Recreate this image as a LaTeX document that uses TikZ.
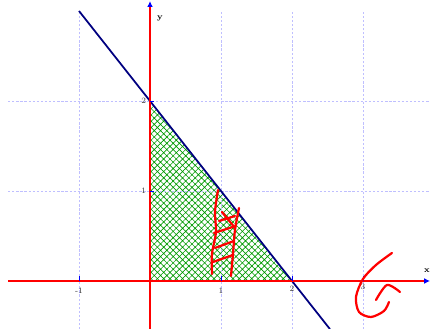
\documentclass[tikz,border=0pt]{standalone}
\usetikzlibrary{arrows.meta, patterns.meta}

\definecolor{navyln}{RGB}{0,0,128}

\begin{document}
\begin{tikzpicture}[x=2.13cm, y=2.7cm,
    gridln/.style={draw=blue!25, line width=0.4pt, dash pattern=on 2pt off 1.5pt},
    axisln/.style={draw=red, line width=2.2pt, -{Latex[color=blue, length=5pt, width=5pt]}},
    tck/.style={font=\scriptsize, inner sep=1pt, text=black!80},
    axlab/.style={font=\scriptsize\bfseries, inner sep=1pt},
    scrib/.style={draw=red, line width=1.9pt, line cap=round, line join=round},
]
\useasboundingbox (-2.1127,-0.5333) rectangle (3.9437,3.1222);

% Feasible region
\fill[pattern={Hatch[angle=45, distance=3.8pt, line width=0.55pt]}, pattern color=green!60!black]
    (0,0) -- (2,0) -- (0,2) -- cycle;

% Grid
\foreach \x in {-1,1,2,3}
    \draw[gridln] (\x,-0.54) -- (\x,3);
\foreach \y in {1,2}
    \draw[gridln] (-2,\y) -- (3.95,\y);

% Line x + y = 2
\draw[navyln, line width=1.5pt] (-1,3) -- (2.535,-0.535);

% Axes
\draw[axisln] (-2,0) -- (3.944,0);
\draw[axisln] (0,-0.54) -- (0,3.11);
\foreach \x in {-1,1,2,3}
    \draw[blue, line width=0.6pt] (\x,0) -- (\x,0.05);
\foreach \y in {1,2}
    \draw[blue, line width=0.6pt] (0,\y) -- (0.06,\y);

% Labels
\node[tck] (xm1) at (-1,-0.11) {-1};
\node[tck] (x1)  at (1,-0.11)  {1};
\node[tck] (x2)  at (2,-0.09)  {2};
\node[tck] (x3)  at (3,-0.07)  {3};
\node[tck] (y1)  at (-0.09,1)  {1};
\node[tck] (y2)  at (-0.09,2)  {2};
\node[axlab] (xl) at (3.9,0.11) {x};
\node[axlab] (yl) at (0.14,2.92) {y};

% Scribbles (drawn in pixels)
\begin{scope}[x=0.03cm, y=-0.03cm, shift={(-4.5cm,8.43cm)}]
    \draw[scrib] plot[smooth] coordinates {(218,190) (215,212) (216,232) (212,254) (212,274)};
    \draw[scrib] plot[smooth] coordinates {(239,208) (235,230) (233,254) (231,276)};
    \draw[scrib] (214,233) -- (236,226);
    \draw[scrib] (215,248) -- (234,241);
    \draw[scrib] (213,262) -- (233,255);
    \draw[scrib] (222,212) -- (235,228);
    \draw[scrib] (219,221) -- (235,216);
    \draw[scrib] plot[smooth] coordinates {(392,253) (376,265) (363,279) (356,297) (359,312) (371,317) (384,311) (389,302)};
    \draw[scrib] plot[smooth] coordinates {(376,300) (387,285) (400,292)};
\end{scope}
\end{tikzpicture}
\end{document}
